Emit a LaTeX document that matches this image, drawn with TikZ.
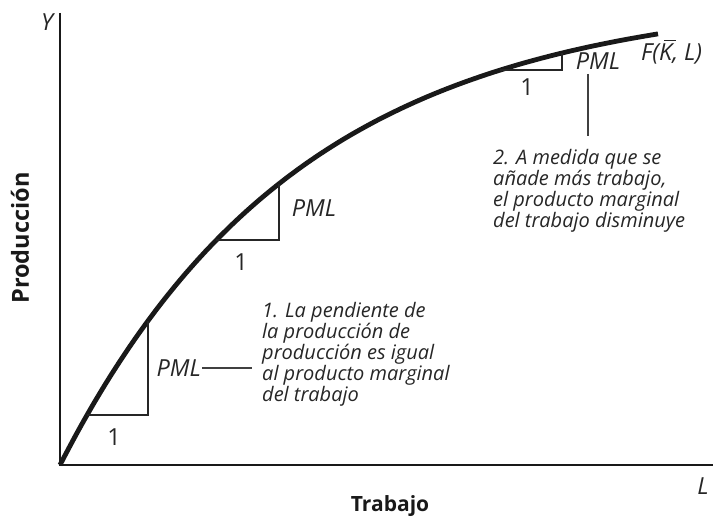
\documentclass[tikz,border=0pt]{standalone}
\usepackage{fontspec}
\setmainfont{Open Sans}
\newcommand{\barK}{\makebox[0pt][l]{\hspace{0.22em}\raisebox{0.82em}{\rule{0.48em}{0.055em}}}K}
\begin{document}
\begin{tikzpicture}[x=1pt,y=-1pt,
  axis/.style={line width=1.4pt,black!90},
  curve/.style={line width=4.8pt,black!90},
  tri/.style={line width=1.1pt,black!85},
  leader/.style={line width=1.1pt,black!75},
  lbl/.style={inner sep=0pt,font=\itshape\fontsize{23.5}{25}\selectfont,text=black!85},
  one/.style={inner sep=0pt,font=\fontsize{23.5}{25}\selectfont,text=black!85},
  note/.style={inner sep=0pt,align=left,anchor=north west,font=\itshape\fontsize{20}{19}\selectfont,text=black!85},
  title/.style={inner sep=0pt,font=\bfseries\fontsize{22}{24}\selectfont,text=black!90}]
\useasboundingbox (0,0) rectangle (713,524);
% axes
\coordinate (O) at (60,465);
\coordinate (ytop) at (60,13);
\coordinate (xend) at (713,465);
\draw[axis] (ytop) -- (O) -- (xend);
\node[lbl] (Y) at (47,22) {Y};
\node[lbl] (L) at (703,486) {L};
\node[title,font=\bfseries\fontsize{21}{23}\selectfont] (trab) at (390,506) {Trabajo};
\node[title,rotate=90,font=\bfseries\fontsize{23.5}{25}\selectfont] (prod) at (20,238) {Producción};
% curve
\draw[curve,line cap=butt] plot[domain=60:658,samples=120] (\x,{465-470*(1-exp(-(\x-60)/240))});
% triangles
\coordinate (a1) at (87,415); \coordinate (b1) at (148,415); \coordinate (c1) at (148,321);
\coordinate (a2) at (216,240); \coordinate (b2) at (279,240); \coordinate (c2) at (279,184);
\coordinate (a3) at (500,70); \coordinate (b3) at (562,70); \coordinate (c3) at (562,53);
\draw[tri] (a1) -- (b1) -- (c1);
\draw[tri] (a2) -- (b2) -- (c2);
\draw[tri] (a3) -- (b3) -- (c3);
\node[one] (one1) at (114,437) {1};
\node[one] (one2) at (241,262) {1};
\node[one] (one3) at (527,87) {1};
\node[lbl,anchor=east] (pml1) at (201,368) {PML};
\node[lbl] (pml2) at (314,208) {PML};
\node[lbl] (pml3) at (598,61) {PML};
\node[lbl,anchor=west] (F) at (641,52) {F(\barK, L)};
% leaders
\coordinate (e1) at (252,368);
\draw[leader] ([xshift=1pt]pml1.east) -- (e1);
\coordinate (s3) at (588,74);
\coordinate (e3) at (588,136);
\draw[leader] (s3) -- (e3);
% notes
\node[note] (n1) at (262,302) {1. La pendiente de\\la producción de\\producción es igual\\al producto marginal\\del trabajo};
\node[note] (n2) at (493,149) {2. A medida que se\\añade más trabajo,\\el producto marginal\\del trabajo disminuye};
\end{tikzpicture}
\end{document}
